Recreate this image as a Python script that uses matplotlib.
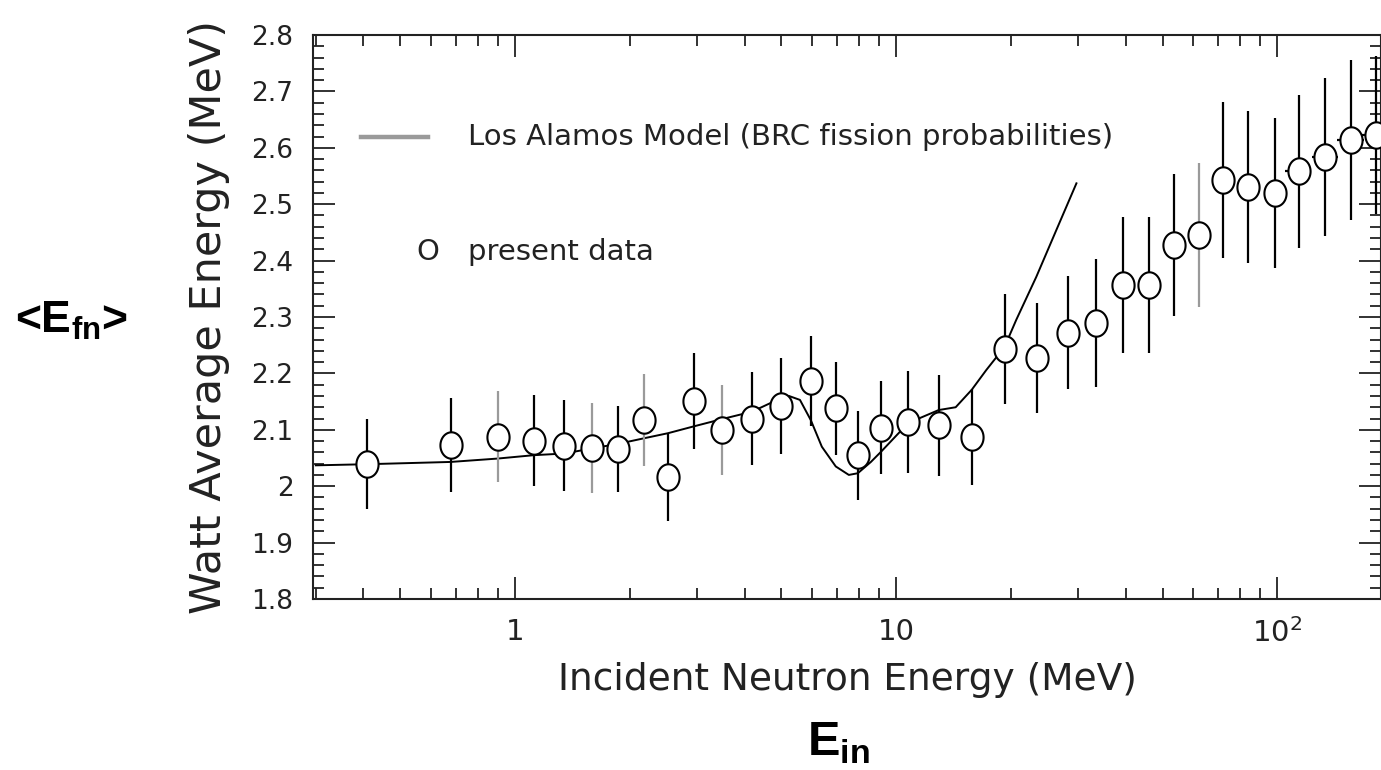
import numpy as np
import matplotlib
matplotlib.use("Agg")
import matplotlib.pyplot as plt
from matplotlib.path import Path
from matplotlib.ticker import FixedLocator, NullFormatter, FuncFormatter

plt.rcParams['mathtext.fontset'] = 'custom'
plt.rcParams['mathtext.rm'] = 'DejaVu Sans'
plt.rcParams['mathtext.bf'] = 'Liberation Sans:bold'

# ---- data: measured points ----
energy = [0.409, 0.677, 0.902, 1.12, 1.346, 1.595, 1.862, 2.175, 2.52, 2.95,
          3.49, 4.18, 4.98, 5.98, 6.93, 7.93, 9.12, 10.75, 12.94, 15.77,
          19.25, 23.4, 28.2, 33.5, 39.3, 46.0, 53.7, 62.2, 72.2, 83.9,
          98.3, 113.7, 133.4, 156.0, 181.5]
avg_energy = [2.039, 2.073, 2.088, 2.081, 2.072, 2.068, 2.066, 2.117, 2.016, 2.151,
              2.100, 2.120, 2.142, 2.187, 2.138, 2.055, 2.104, 2.114, 2.108, 2.087,
              2.243, 2.227, 2.272, 2.289, 2.357, 2.357, 2.428, 2.445, 2.543, 2.531,
              2.519, 2.558, 2.584, 2.614, 2.623]
avg_err = [0.080, 0.083, 0.080, 0.080, 0.080, 0.080, 0.077, 0.082, 0.078, 0.085,
           0.080, 0.083, 0.085, 0.080, 0.083, 0.079, 0.082, 0.090, 0.090, 0.085,
           0.097, 0.098, 0.100, 0.113, 0.120, 0.120, 0.126, 0.128, 0.138, 0.135,
           0.133, 0.135, 0.140, 0.142, 0.140]
energy_err = [0, 0, 0, 0, 0, 0, 0, 0, 0, 0,
              0, 0, 0, 0, 0, 0, 0, 0, 0, 0,
              0, 0, 0, 0, 0, 0, 0, 0, 0, 0,
              0, 9.0, 10.5, 12.5, 14.5]

# ---- data: Los Alamos model curve ----
model_energy = [0.30, 0.41, 0.677, 0.90, 1.12, 1.35, 1.59, 1.862, 2.18, 2.52,
                2.94, 3.49, 4.18, 4.98, 5.23, 5.59, 5.97, 6.38, 6.94, 7.51,
                7.93, 8.58, 9.12, 10.75, 12.92, 14.32, 15.78, 17.23, 19.24, 20.65,
                23.3, 26.3, 29.7]
model_avg = [2.037, 2.039, 2.043, 2.049, 2.055, 2.058, 2.067, 2.075, 2.085, 2.094,
             2.106, 2.119, 2.132, 2.156, 2.160, 2.153, 2.117, 2.070, 2.035, 2.020,
             2.023, 2.043, 2.061, 2.112, 2.135, 2.140, 2.171, 2.206, 2.247, 2.295,
             2.371, 2.454, 2.537]

y_ticks = [1.8, 1.9, 2.0, 2.1, 2.2, 2.3, 2.4, 2.5, 2.6, 2.7, 2.8]
x_major = [1, 10, 100]
x_major_labels = ['1', '10', r'$10^{2}$']

legend_model = 'Los Alamos Model (BRC fission probabilities)'
legend_data = 'present data'
x_title = 'Incident Neutron Energy (MeV)'
y_title = 'Watt Average Energy (MeV)'

# ---- figure ----
W, H = 1381, 770
fig = plt.figure(figsize=(W / 100, H / 100), dpi=100)
L, R, T, B = 313, 1381, 35, 599
ax = fig.add_axes([L / W, 1 - B / H, (R - L) / W, (B - T) / H])
ax.set_xscale('log')
ax.set_xlim(0.295, 187)
ax.set_ylim(1.8, 2.8)

ink = '#222222'
grey = '#9a9a9a'

# model curve
ax.plot(model_energy, model_avg, color='black', lw=1.4, zorder=2)

# elliptical (slightly tall) open marker
t = np.linspace(0, 2 * np.pi, 60)
ell = Path(np.column_stack([np.cos(t) * 0.84, np.sin(t)]), closed=True)

gray_bars = {2, 5, 7, 10, 27}
for i, (e, v, dv, de) in enumerate(zip(energy, avg_energy, avg_err, energy_err)):
    c = grey if i in gray_bars else 'black'
    ax.errorbar([e], [v], yerr=[dv], xerr=[de] if de else None, fmt='none',
                ecolor=c, elinewidth=1.6, capsize=0, zorder=3)
ax.plot(energy, avg_energy, linestyle='none', marker=ell, markersize=19,
        markerfacecolor='white', markeredgecolor='black', markeredgewidth=1.5,
        zorder=4)

# legend-like annotations
ax.plot([0.0449, 0.1077], [0.819, 0.819], transform=ax.transAxes,
        color=grey, lw=3.2, clip_on=False)
ax.text(0.1451, 0.819, legend_model, transform=ax.transAxes, fontsize=21,
        color=ink, va='center', ha='left')
ax.text(0.1077, 0.615, 'O', transform=ax.transAxes, fontsize=21,
        color=ink, va='center', ha='center')
ax.text(0.1451, 0.615, legend_data, transform=ax.transAxes, fontsize=21,
        color=ink, va='center', ha='left')

# ticks
ax.xaxis.set_major_locator(FixedLocator(x_major))
ax.set_xticklabels(x_major_labels)
minor = [m * 10.0 ** d for d in (-1, 0, 1, 2) for m in range(2, 10)]
ax.xaxis.set_minor_locator(FixedLocator(minor))
ax.xaxis.set_minor_formatter(NullFormatter())
ax.set_yticks(y_ticks)
ax.yaxis.set_major_formatter(FuncFormatter(lambda v, p: '%g' % v))
ax.yaxis.set_minor_locator(FixedLocator(np.arange(1.8, 2.8001, 0.02)))
ax.tick_params(which='both', direction='in', top=True, right=True, colors=ink,
               width=1.3)
ax.tick_params(which='major', length=16)
ax.tick_params(which='minor', length=8)
ax.tick_params(axis='x', which='major', labelsize=21, pad=14, labelcolor=ink)
ax.tick_params(axis='y', which='major', labelsize=19, pad=14, labelcolor=ink)
for s in ax.spines.values():
    s.set_linewidth(1.5)
    s.set_color(ink)

ax.set_xlabel(x_title, fontsize=27, color=ink)
ax.xaxis.set_label_coords(0.5, (B - 680) / (B - T))
ax.xaxis.label.set_va('center')
ax.set_ylabel(y_title, fontsize=31, color=ink)
ax.yaxis.set_label_coords((209 - L) / (R - L), 0.5)
ax.yaxis.label.set_va('center')

# bold annotations
fig.text(15 / W, 1 - 333 / H, r'<E$_{\mathbf{fn}}$>', fontsize=32,
         fontweight='bold', family='Liberation Sans', ha='left', va='baseline')
fig.text(807 / W, 1 - 756 / H, r'E$_{\mathbf{in}}$', fontsize=35,
         fontweight='bold', family='Liberation Sans', ha='left', va='baseline')

fig.savefig('out.png', dpi=100)
